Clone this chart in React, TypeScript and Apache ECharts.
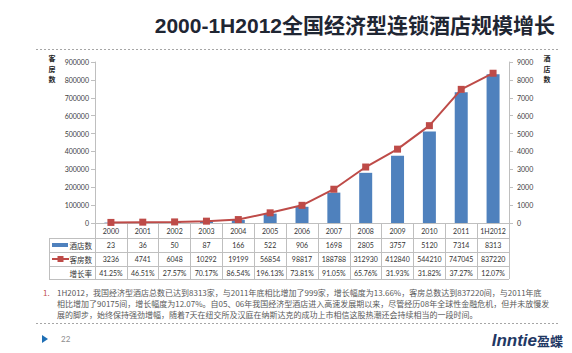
import React, { useEffect, useRef } from "react";
import * as echarts from "echarts";

const years = ["2000", "2001", "2002", "2003", "2004", "2005", "2006", "2007", "2008", "2009", "2010", "2011", "1H2012"];
const hotels = [23, 36, 50, 87, 166, 522, 906, 1698, 2805, 3757, 5120, 7314, 8313];
const rooms = [3236, 4741, 6048, 10292, 19199, 56854, 98817, 188788, 312930, 412840, 544210, 747045, 837220];
const rates = ["41.25%", "46.51%", "27.57%", "70.17%", "86.54%", "196.13%", "73.81%", "91.05%", "65.76%", "31.93%", "31.82%", "37.27%", "12.07%"];

const titleText = "2000-1H2012全国经济型连锁酒店规模增长";
const noteLines = [
  "1H2012，我国经济型酒店总数已达到8313家，与2011年底相比增加了999家，增长幅度为13.66%，客房总数达到837220间，与2011年底",
  "相比增加了90175间，增长幅度为12.07%。自05、06年我国经济型酒店进入高速发展期以来，尽管经历08年全球性金融危机，但并未放慢发",
  "展的脚步，始终保持强劲增幅，随着7天在纽交所及汉庭在纳斯达克的成功上市相信这股热潮还会持续相当的一段时间。",
];

const NUM_FONT = "Lato, 'Noto Sans CJK SC', sans-serif";
const CJK_FONT = "'Noto Sans CJK SC', 'Liberation Sans', sans-serif";
const GRID = "#bfbfbf";

export default function App() {
  const ref = useRef<HTMLDivElement>(null);
  useEffect(() => {
    if (!ref.current) return;
    const chart = echarts.init(ref.current, null, { renderer: "svg" });
    const L = 95, R = 509, T = 62, B = 223;
    const rowH = 14;
    const hLine = (x1: number, x2: number, y: number) => ({
      type: "line",
      shape: { x1, y1: y + 0.5, x2, y2: y + 0.5 },
      style: { stroke: GRID, lineWidth: 1 },
      silent: true,
    });
    const dashed = (y: number) => ({
      type: "line",
      shape: { x1: 36, y1: y + 0.5, x2: 560, y2: y + 0.5 },
      style: { stroke: "#a6a6a6", lineWidth: 1, lineDash: [2, 2] },
      silent: true,
    });
    const vName = (x: number, chars: string[]) =>
      chars.map((c, i) => ({
        type: "text",
        x,
        y: 58 + i * 10.5,
        style: {
          text: c,
          fontSize: 7,
          lineHeight: 7,
          fontWeight: "bold",
          fill: "#262626",
          fontFamily: CJK_FONT,
          align: "center",
          verticalAlign: "middle",
        },
      }));
    chart.setOption({
      animation: false,
      backgroundColor: "#ffffff",
      grid: { left: L, right: 572 - R, top: T, bottom: 353 - B, containLabel: false, outerBoundsMode: "none" },
      xAxis: {
        type: "category",
        data: years,
        boundaryGap: true,
        axisLine: { show: true, lineStyle: { color: GRID, width: 1 } },
        axisTick: { show: true, length: rowH * 4, lineStyle: { color: GRID, width: 1 } },
        axisLabel: {
          interval: 0,
          margin: 0,
          formatter: (v: string, i: number) =>
            `{y|${v}}\n{v|${hotels[i]}}\n{v|${rooms[i]}}\n{v|${rates[i]}}`,
          rich: {
            y: { fontSize: 7, lineHeight: rowH + 1, color: "#333", fontFamily: NUM_FONT },
            v: { fontSize: 7, lineHeight: rowH, color: "#333", fontFamily: NUM_FONT },
          },
        },
      },
      yAxis: [
        {
          type: "value",
          position: "left",
          min: 0,
          max: 900000,
          interval: 100000,
          axisLine: { show: true, lineStyle: { color: GRID } },
          axisTick: { show: true, length: 4, lineStyle: { color: GRID } },
          splitLine: { show: false },
          axisLabel: { fontSize: 7, color: "#404040", margin: 6, fontFamily: NUM_FONT, formatter: (v: number) => String(v) },
        },
        {
          type: "value",
          position: "right",
          min: 0,
          max: 9000,
          interval: 1000,
          axisLine: { show: true, lineStyle: { color: GRID } },
          axisTick: { show: true, length: 4, lineStyle: { color: GRID } },
          splitLine: { show: false },
          axisLabel: { fontSize: 7, color: "#404040", margin: 8, fontFamily: NUM_FONT, formatter: (v: number) => String(v) },
        },
      ],
      series: [
        {
          name: "酒店数",
          type: "bar",
          yAxisIndex: 1,
          data: hotels,
          barWidth: 13,
          itemStyle: { color: "#4f81bd" },
          z: 2,
        },
        {
          name: "客房数",
          type: "line",
          yAxisIndex: 0,
          data: rooms,
          symbol: "rect",
          symbolSize: 7,
          lineStyle: { color: "#be4b48", width: 2 },
          itemStyle: { color: "#be4b48" },
          z: 3,
        },
      ],
      graphic: [
        {
          type: "text",
          x: 555,
          y: 25,
          style: {
            text: titleText,
            fontSize: 21,
            fontWeight: "bold",
            fill: "#1f2633",
            fontFamily: "'Liberation Sans', 'Noto Sans CJK SC', sans-serif",
            align: "right",
            verticalAlign: "middle",
          },
        },
        dashed(49),
        dashed(323),
        ...vName(52, ["客", "房", "数"]),
        ...vName(547, ["酒", "店", "数"]),
        // table left column
        hLine(49, R, B + rowH + 1),
        hLine(49, R, B + rowH * 2 + 1),
        hLine(49, R, B + rowH * 3 + 1),
        hLine(49, R, B + rowH * 4),
        {
          type: "line",
          shape: { x1: 49.5, y1: B + rowH + 1.5, x2: 49.5, y2: B + rowH * 4 + 0.5 },
          style: { stroke: GRID, lineWidth: 1 },
        },
        {
          type: "rect",
          shape: { x: 52, y: B + rowH * 1.5 - 1, width: 16, height: 4 },
          style: { fill: "#4f81bd" },
        },
        {
          type: "line",
          shape: { x1: 52, y1: B + rowH * 2.5 + 1, x2: 69, y2: B + rowH * 2.5 + 1 },
          style: { stroke: "#be4b48", lineWidth: 2 },
        },
        {
          type: "rect",
          shape: { x: 57.5, y: B + rowH * 2.5 - 2, width: 6, height: 6 },
          style: { fill: "#be4b48" },
        },
        {
          type: "text",
          x: 92,
          y: B + rowH * 1.5 + 1,
          style: { text: "酒店数", fontSize: 7.5, fill: "#333", fontFamily: CJK_FONT, align: "right", verticalAlign: "middle" },
        },
        {
          type: "text",
          x: 92,
          y: B + rowH * 2.5 + 1,
          style: { text: "客房数", fontSize: 7.5, fill: "#333", fontFamily: CJK_FONT, align: "right", verticalAlign: "middle" },
        },
        {
          type: "text",
          x: 92,
          y: B + rowH * 3.5 + 1,
          style: { text: "增长率", fontSize: 7.5, fill: "#333", fontFamily: CJK_FONT, align: "right", verticalAlign: "middle" },
        },
        // note
        {
          type: "text",
          x: 43,
          y: 292,
          style: { text: "1.", fontSize: 8, fill: "#c0504d", fontFamily: CJK_FONT, verticalAlign: "middle" },
        },
        {
          type: "text",
          x: 57,
          y: 287,
          style: {
            text: noteLines.join("\n"),
            fontSize: 8,
            lineHeight: 10.8,
            fill: "#595959",
            fontFamily: CJK_FONT,
          },
        },
        // footer
        {
          type: "polygon",
          shape: { points: [[42, 335], [42, 343], [48, 339]] },
          style: { fill: "#1f6fb5" },
        },
        {
          type: "text",
          x: 61,
          y: 339,
          style: { text: "22", fontSize: 8, fill: "#8c8c8c", fontFamily: NUM_FONT, verticalAlign: "middle" },
        },
        {
          type: "text",
          x: 563,
          y: 340,
          style: {
            text: "{a|Inntie}{b|盈蝶}",
            align: "right",
            verticalAlign: "middle",
            rich: {
              a: { fontSize: 17, fontWeight: "bold", fontStyle: "italic", fill: "#1f3864", fontFamily: "'Liberation Sans', sans-serif" },
              b: { fontSize: 13, fontWeight: "bold", fill: "#1f3864", fontFamily: CJK_FONT },
            },
          },
        },
      ],
    });
    return () => chart.dispose();
  }, []);
  return <div ref={ref} style={{ width: 572, height: 353, position: "absolute", left: 0, top: 0 }} />;
}
